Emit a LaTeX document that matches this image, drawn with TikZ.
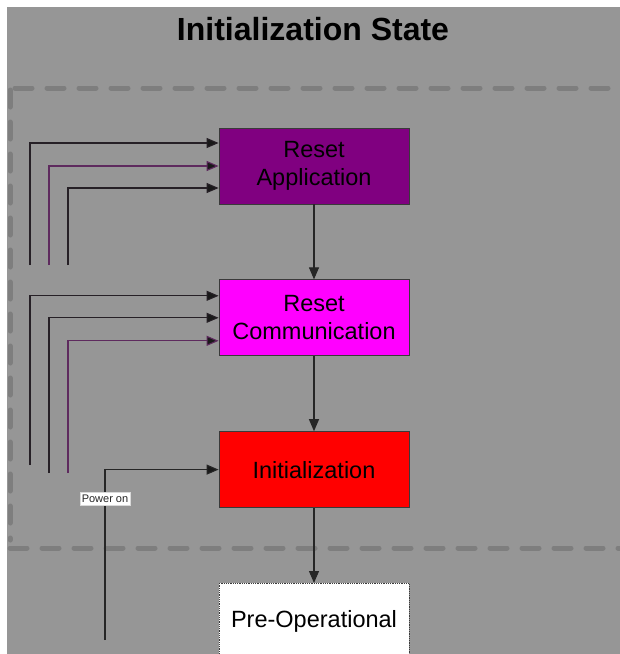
\documentclass[tikz,border=0pt]{standalone}
\usepackage{fontspec}
\setmainfont{Liberation Sans}
\usetikzlibrary{arrows.meta, positioning}
\usepackage{xcolor}

\definecolor{bggray}{HTML}{969696}
\definecolor{dashgray}{HTML}{7E7E7E}
\definecolor{raPurple}{HTML}{800080}
\definecolor{rcMagenta}{HTML}{FF00FF}
\definecolor{edgegray}{HTML}{3A3A3A}
\definecolor{wireDark}{HTML}{262026}
\definecolor{wirePurple}{HTML}{5E2A5E}

\tikzset{
  statebox/.style={draw=edgegray, line width=0.8pt, minimum width=190pt,
    minimum height=76pt, inner sep=0pt, align=center,
    font=\fontsize{23.5}{28}\selectfont},
  flow/.style={draw=black!85, line width=1.1pt,
    -{Triangle[length=12pt,width=10pt]}},
  wire/.style={line width=1.1pt, -{Triangle[length=12pt,width=10pt,fill=black!90]}},
  zone/.style={draw=dashgray, line width=5pt, line cap=round,
    dash pattern=on 17pt off 15pt},
  pwrlabel/.style={fill=white, draw=white!85!black, line width=0.4pt,
    inner xsep=2pt, inner ysep=2.5pt, font=\fontsize{11}{11}\selectfont}
}

\begin{document}
\begin{tikzpicture}[x=1pt, y=-1pt]
  \useasboundingbox (0,0) rectangle (620,654);
  \clip (0,0) rectangle (620,654);
  \fill[bggray] (7,7) rectangle (620,654);

  % title of the state
  \node[anchor=base, font=\fontsize{32}{32}\selectfont\bfseries] (title)
    at (313,40) {Initialization State};

  % dashed frame round the sub-states
  \draw[zone] (15,88) -- (620,88);
  \draw[zone] (10,90) -- (10,540);
  \draw[zone] (10,548) -- (620,548);

  % the states
  \node[statebox, fill=raPurple] (ra) at (314,166) {Reset\\Application};
  \node[statebox, fill=rcMagenta, below=75pt of ra] (rc) {Reset\\Communication};
  \node[statebox, fill=red, below=75pt of rc] (init) {Initialization};
  \node[statebox, fill=white, draw=edgegray, densely dotted,
    below=75pt of init] (preop) {Pre-Operational};

  % transitions down the chain
  \draw[flow] (ra) -- (rc);
  \draw[flow] (rc) -- (init);
  \draw[flow] (init) -- (preop);

  % incoming transitions to Reset Application
  \coordinate (raA) at (30,265);
  \coordinate (raB) at (49,265);
  \coordinate (raC) at (68,265);
  \draw[wire, wireDark] (raA) |- ([yshift=23pt]ra.west);
  \draw[wire, wirePurple] (raB) |- (ra.west);
  \draw[wire, wireDark] (raC) |- ([yshift=-22pt]ra.west);

  % incoming transitions to Reset Communication
  \coordinate (rcA) at (30,465);
  \coordinate (rcB) at (49,473);
  \coordinate (rcC) at (68,473);
  \draw[wire, wireDark] (rcA) |- ([yshift=22pt]rc.west);
  \draw[wire, wireDark] (rcB) |- (rc.west);
  \draw[wire, wirePurple] (rcC) |- ([yshift=-23pt]rc.west);

  % power on
  \coordinate (pwr) at (105,640);
  \draw[wire, black!85] (pwr) |- (init.west)
    node[pwrlabel, pos=0.415] (pon) {Power on};
\end{tikzpicture}
\end{document}
